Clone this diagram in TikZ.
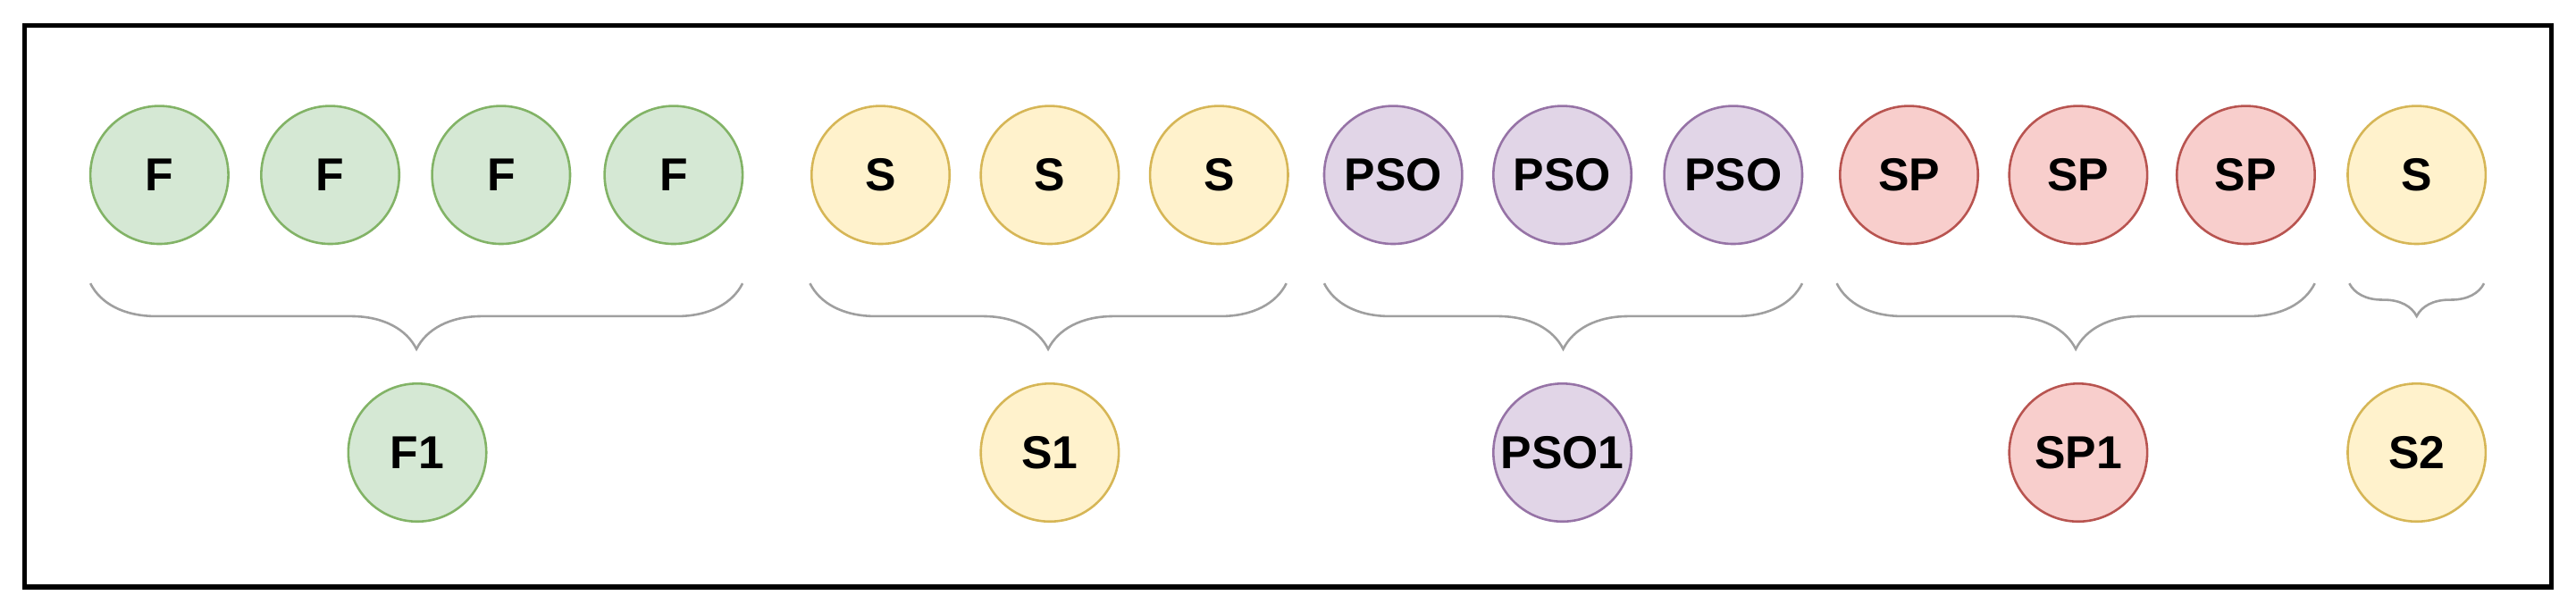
\documentclass[tikz,border=0pt]{standalone}
\usepackage{fontspec}
\setmainfont{Liberation Sans}
\usetikzlibrary{decorations.pathreplacing}
\definecolor{fgreen}{HTML}{D5E8D4}\definecolor{dgreen}{HTML}{82B366}
\definecolor{fyellow}{HTML}{FFF2CC}\definecolor{dyellow}{HTML}{D6B656}
\definecolor{fpurple}{HTML}{E1D5E7}\definecolor{dpurple}{HTML}{9673A6}
\definecolor{fred}{HTML}{F8CECC}\definecolor{dred}{HTML}{B85450}
\tikzset{
  ball/.style={circle, minimum size=0.84cm, inner sep=0pt, font=\bfseries\fontsize{8}{9}\selectfont},
  fball/.style={ball, fill=fgreen, draw=dgreen},
  sball/.style={ball, fill=fyellow, draw=dyellow},
  pball/.style={ball, fill=fpurple, draw=dpurple},
  rball/.style={ball, fill=fred, draw=dred},
  group/.style={draw=gray!75, decorate, decoration={brace, mirror, amplitude=0.4cm}},
}
\begin{document}
\begin{tikzpicture}
    \useasboundingbox (0,0) rectangle (15.68,3.725);
    % Frame
    \draw[line width=0.9pt] (0.15,0.15) rectangle (15.53,3.57);

    % Top row
    \foreach \x [count=\i] in {0.97,2.01,3.05,4.10} \node[fball] (f\i) at (\x,2.66) {F};
    \foreach \x [count=\i] in {5.36,6.39,7.42} \node[sball] (s\i) at (\x,2.66) {S};
    \foreach \x [count=\i] in {8.48,9.51,10.55} \node[pball] (p\i) at (\x,2.66) {PSO};
    \foreach \x [count=\i] in {11.62,12.65,13.67} \node[rball] (r\i) at (\x,2.66) {SP};
    \node[sball] (s4) at (14.71,2.66) {S};

    % Bottom row
    \node[fball] (F1) at (2.54,0.97) {F1};
    \node[sball] (S1) at (6.39,0.97) {S1};
    \node[pball] (PSO1) at (9.51,0.97) {\makebox[0pt]{PSO1}};
    \node[rball] (SP1) at (12.65,0.97) {SP1};
    \node[sball] (S2) at (14.71,0.97) {S2};

    % Braces
    \draw[group] (0.55,2.00) -- (4.52,2.00);
    \draw[group] (4.93,2.00) -- (7.83,2.00);
    \draw[group] (8.06,2.00) -- (10.97,2.00);
    \draw[group] (11.18,2.00) -- (14.09,2.00);
    \draw[group, decoration={amplitude=0.2cm}] (14.30,2.00) -- (15.12,2.00);
\end{tikzpicture}
\end{document}
